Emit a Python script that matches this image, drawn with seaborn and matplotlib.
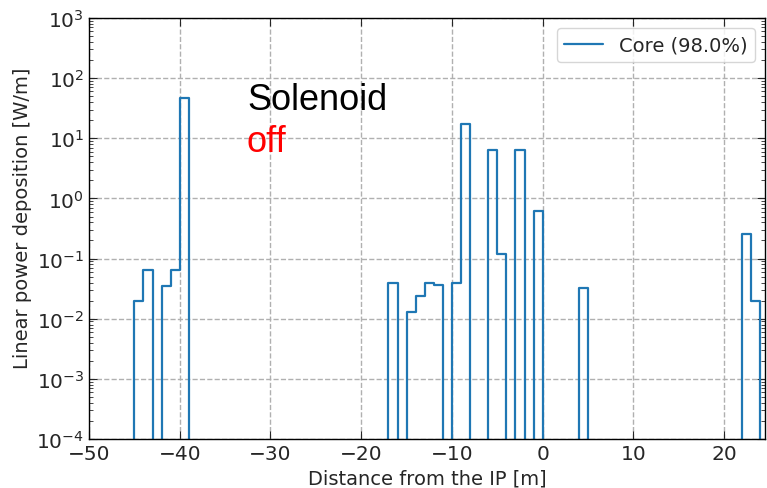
import numpy as np
import pandas as pd
import matplotlib
matplotlib.use("Agg")
import matplotlib.pyplot as plt
import seaborn as sns

# Data: left edge of each 1 m bin (non-zero bins only) and linear power [W/m]
bin_left = [-45, -44, -42, -41, -40, -17, -15, -14, -13, -12, -10, -9,
            -6, -5, -3, -1, 4, 22, 23]
power = [0.020, 0.065, 0.035, 0.065, 46.0, 0.040, 0.0128, 0.024, 0.040,
         0.036, 0.040, 17.0, 6.5, 0.12, 6.5, 0.62, 0.032, 0.26, 0.020]
label = "Core (98.0%)"
x_ticks = [-50, -40, -30, -20, -10, 0, 10, 20]

df = pd.DataFrame({"pos": np.array(bin_left) + 0.5, "power": power})

sns.set_style("white")
plt.rcParams["font.family"] = ["DejaVu Sans"]

fig = plt.figure(figsize=(7.67, 4.89), dpi=100)
ax = fig.add_axes([89/767, 1-440/489, (765-89)/767, (440-19)/489])

sns.histplot(data=df, x="pos", weights="power", binwidth=1, binrange=(-50, 25),
             element="step", fill=False, color="#1f77b4", linewidth=1.6,
             label=label, ax=ax)

ax.set_yscale("log")
ax.set_ylim(1e-4, 1e3)
ax.set_xlim(-50, 24.5)
ax.set_xticks(x_ticks)
ax.set_xlabel("Distance from the IP [m]", fontsize=14)
ax.set_ylabel("Linear power deposition [W/m]", fontsize=14)
ax.yaxis.set_label_coords(-0.085, (440-218)/421)
ax.tick_params(which="both", direction="in", top=True, right=True,
               bottom=True, left=True, labelsize=14.5)
ax.tick_params(which="major", length=6)
ax.tick_params(which="minor", length=3)
ax.xaxis.set_minor_locator(matplotlib.ticker.NullLocator())
ax.yaxis.set_major_locator(matplotlib.ticker.LogLocator(base=10, numticks=10))
ax.yaxis.set_minor_locator(matplotlib.ticker.LogLocator(base=10, subs=np.arange(2, 10), numticks=100))
ax.grid(True, which="major", linestyle="--", color="#b0b0b0", linewidth=1)
for s in ax.spines.values():
    s.set_color("black")
    s.set_linewidth(1)

ax.legend(loc="upper right", fontsize=14, frameon=True)

fig.text(247/767, 1-100/489, "Solenoid", fontsize=26, family="Liberation Sans",
         color="black", va="center", ha="left")
fig.text(247/767, 1-143/489, "off", fontsize=26, family="Liberation Sans",
         color="red", va="center", ha="left")

fig.savefig("out.png", dpi=100)
